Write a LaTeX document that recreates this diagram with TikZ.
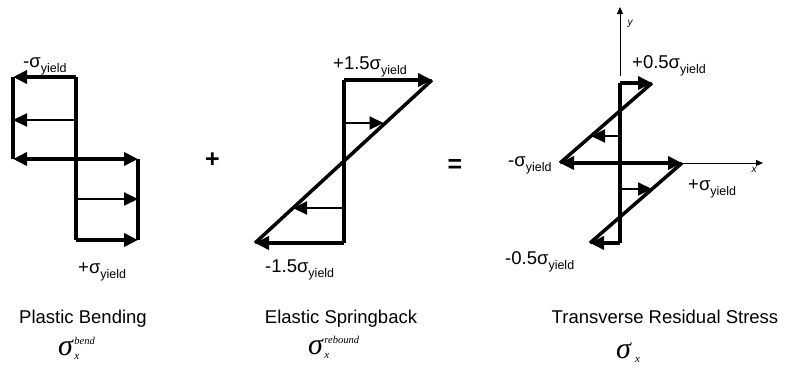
\documentclass[tikz,border=0pt]{standalone}
\usepackage{fontspec}
\setmainfont{Liberation Sans}
\newfontfamily\tms{Liberation Serif}
\usetikzlibrary{arrows.meta}
\newcommand{\sigy}[1]{#1σ\raisebox{-5pt}{\fontsize{12.5}{13}\selectfont yield}}
\newcommand{\mlab}[2]{{\tms\itshape\fontsize{30}{30}\selectfont σ}\kern1.5pt\makebox[0pt][l]{\raisebox{11pt}{\tms\itshape\fontsize{10.5}{11}\selectfont #1}}\raisebox{-4pt}{\tms\itshape\fontsize{11}{11}\selectfont #2}}
\tikzset{
  lab/.style={inner sep=0pt, anchor=base west, font=\fontsize{18.5}{20}\selectfont},
  captxt/.style={inner sep=0pt, anchor=base, font=\fontsize{18.5}{20}\selectfont},
  opsym/.style={inner sep=0pt, font=\fontsize{25}{25}\selectfont\bfseries},
  thk/.style={line width=3.5pt, line cap=butt, line join=miter},
  thn/.style={line width=2pt},
  arr/.style={-{Triangle[length=14pt,width=13pt]}},
  barr/.style={{Triangle[length=14pt,width=13pt]}-{Triangle[length=14pt,width=13pt]}},
  ax/.style={line width=1pt, -{Triangle[length=7pt,width=6pt]}}
}
\begin{document}
\begin{tikzpicture}[x=1pt,y=-1pt]
\useasboundingbox (0,0) rectangle (787,368);
% ---------- Panel 1: plastic bending ----------
\coordinate (a1) at (13,77);
\coordinate (a2) at (76,77);
\coordinate (a3) at (13,120);
\coordinate (a4) at (76,120);
\coordinate (a5) at (13,159);
\coordinate (a6) at (76,159);
\coordinate (a7) at (138,159);
\coordinate (a8) at (76,199);
\coordinate (a9) at (138,199);
\coordinate (a10) at (76,240);
\coordinate (a11) at (138,240);
\draw[thk] (a1) -- (a5);
\draw[thk] (a2) -- (a10);
\draw[thk] (a7) -- (a11);
\draw[thk,arr] (a2) -- (a1);
\draw[thn,arr] (a4) -- (a3);
\draw[thk,barr] (a5) -- (a7);
\draw[thn,arr] (a8) -- (a9);
\draw[thk,arr] (a10) -- (a11);
\node[lab] (l1) at (23,67) {\sigy{-}};
\node[lab] (l2) at (78,273) {\sigy{+}};
% plus
\node[opsym] (plus) at (212.5,160.5) {+};
% ---------- Panel 2: elastic springback ----------
\coordinate (b1) at (344,80);
\coordinate (b2) at (432,80);
\coordinate (b3) at (344,123);
\coordinate (b4) at (383.5,123);
\coordinate (b5) at (344,208);
\coordinate (b6) at (293,208);
\coordinate (b7) at (344,243);
\coordinate (b8) at (255,243);
\draw[thk] (b1) -- (b7);
\draw[thk] (b8) -- (b2);
\draw[thk,arr] (b1) -- (b2);
\draw[thn,arr] (b3) -- (b4);
\draw[thn,arr] (b5) -- (b6);
\draw[thk,arr] (b7) -- (b8);
\node[lab] (l3) at (333,69) {\sigy{+1.5}};
\node[lab] (l4) at (265,272) {\sigy{-1.5}};
% equals
\node[opsym] (eq) at (455,165.5) {=};
% ---------- Panel 3: residual stress ----------
\coordinate (c0) at (620,76);
\coordinate (ct) at (620,7);
\coordinate (c1) at (620,83);
\coordinate (c2) at (652,83);
\coordinate (c3) at (620,136);
\coordinate (c4) at (591,136);
\coordinate (c5) at (560,163);
\coordinate (c6) at (682,163);
\coordinate (c7) at (620,189);
\coordinate (c8) at (652,189);
\coordinate (c9) at (620,243);
\coordinate (c10) at (590,243);
\coordinate (cx) at (763,163);
\draw[ax] (c0) -- (ct);
\draw[ax] (c6) -- (cx);
\node[inner sep=0pt, font=\fontsize{10}{10}\selectfont\itshape] (ylab) at (630,24) {y};
\node[inner sep=0pt, font=\fontsize{10}{10}\selectfont\itshape] (xlab) at (754,170) {x};
\draw[thk] (c1) -- (c9);
\draw[thk] (c2) -- (c5);
\draw[thk] (c6) -- (c10);
\draw[thk,arr] (c1) -- (c2);
\draw[thn,arr] (c3) -- (c4);
\draw[thk,barr] (c5) -- (c6);
\draw[thn,arr] (c7) -- (c8);
\draw[thk,arr] (c9) -- (c10);
\node[lab] (l5) at (632,68) {\sigy{+0.5}};
\node[lab] (l6) at (508,166) {\sigy{-}};
\node[lab] (l7) at (688,190) {\sigy{+}};
\node[lab] (l8) at (505,264) {\sigy{-0.5}};
% ---------- captions ----------
\node[captxt] (t1) at (83,323) {Plastic Bending};
\node[captxt] (t2) at (341,323) {Elastic Springback};
\node[captxt] (t3) at (665,323) {Transverse Residual Stress};
\node[inner sep=0pt, anchor=base west] (m1) at (58,355) {\mlab{bend}{x}};
\node[inner sep=0pt, anchor=base west] (m2) at (308,354) {\mlab{rebound}{x}};
\node[inner sep=0pt, anchor=base west] (m3) at (616,358) {{\tms\itshape\fontsize{30}{30}\selectfont σ}\hspace{4pt}\raisebox{-4pt}{\tms\itshape\fontsize{11}{11}\selectfont x}};
\end{tikzpicture}
\end{document}
